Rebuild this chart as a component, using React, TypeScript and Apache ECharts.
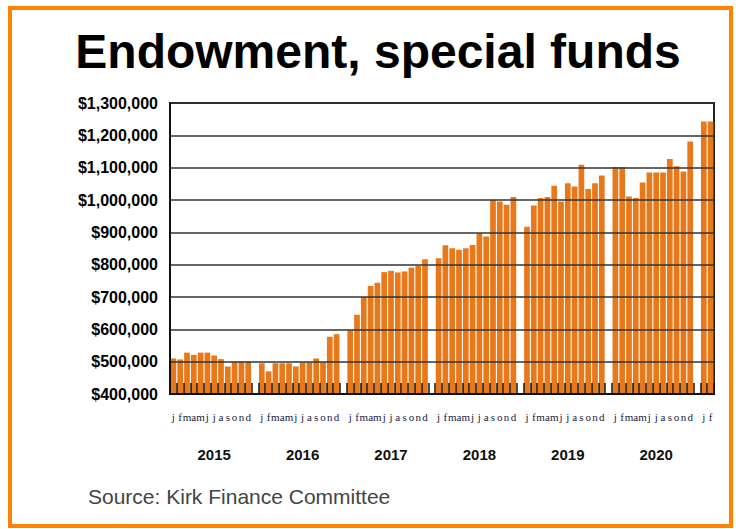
import React, { useEffect, useRef } from "react";
import * as echarts from "echarts";

const monthLetters = ["j", "f", "m", "a", "m", "j", "j", "a", "s", "o", "n", "d"];
const years = ["2015", "2016", "2017", "2018", "2019", "2020", "2021"];
const yearLabelShown = ["2015", "2016", "2017", "2018", "2019", "2020", ""];

const values2015 = [510000, 507000, 528000, 521000, 528000, 528000, 519000, 508000, 485000, 500000, 500000, 500000];
const values2016 = [495000, 470000, 495000, 495000, 495000, 485000, 497000, 498000, 510000, 498000, 577000, 585000];
const values2017 = [597000, 645000, 700000, 734000, 744000, 777000, 781000, 776000, 779000, 791000, 796000, 817000];
const values2018 = [820000, 860000, 851000, 846000, 851000, 861000, 897000, 887000, 1000000, 995000, 985000, 1009000];
const values2019 = [917000, 983000, 1006000, 1009000, 1044000, 995000, 1052000, 1042000, 1109000, 1034000, 1052000, 1076000];
const values2020 = [1102000, 1102000, 1011000, 1006000, 1054000, 1085000, 1085000, 1085000, 1127000, 1104000, 1088000, 1181000];
const values2021 = [1243000, 1243000];

const yearValues = [values2015, values2016, values2017, values2018, values2019, values2020, values2021];

const yMin = 400000;
const yMax = 1300000;
const yInterval = 100000;

export default function App() {
  const ref = useRef<HTMLDivElement>(null);

  useEffect(() => {
    if (!ref.current) return;
    const chart = echarts.init(ref.current, undefined, { renderer: "svg" });

    const monthCats: string[] = [];
    const yearCats: string[] = [];
    const data: (number | string)[] = [];
    yearValues.forEach((vals, yi) => {
      vals.forEach((v, mi) => {
        monthCats.push(monthLetters[mi]);
        yearCats.push(mi === 6 ? yearLabelShown[yi] : "");
        data.push(v);
      });
      if (yi < yearValues.length - 1) {
        monthCats.push("");
        yearCats.push("");
        data.push("-");
      }
    });

    chart.setOption({
      animation: false,
      backgroundColor: "#ffffff",
      title: {
        text: "Endowment, special funds",
        left: 373,
        textAlign: "center",
        top: 22,
        textStyle: {
          fontFamily: "Liberation Sans",
          fontSize: 48,
          fontWeight: "bold",
          color: "#000",
        },
      },
      graphic: [
        {
          type: "rect",
          shape: { x: 10, y: 8, width: 721, height: 518 },
          style: { fill: "none", stroke: "#FF8200", lineWidth: 4 },
          silent: true,
        },
        {
          type: "text",
          left: 88,
          top: 486,
          style: {
            text: "Source: Kirk Finance Committee",
            fontFamily: "Liberation Sans",
            fontSize: 21,
            fill: "#444",
          },
        },
      ],
      grid: {
        left: 170,
        right: 22,
        top: 103,
        bottom: 135,
        show: true,
        borderColor: "#222",
        borderWidth: 2,
        backgroundColor: "transparent",
      },
      xAxis: [
        {
          type: "category",
          data: monthCats,
          position: "bottom",
          boundaryGap: true,
          axisLine: { show: true, lineStyle: { color: "#111", width: 2 } },
          axisTick: {
            show: true,
            interval: 0,
            inside: true,
            length: 11,
            lineStyle: { color: "#111", width: 1.5 },
          },
          axisLabel: {
            interval: 0,
            margin: 17,
            fontFamily: "Liberation Serif",
            fontSize: 11,
            fontWeight: "normal",
            color: "#1a1a40",
          },
          z: 10,
        },
        {
          type: "category",
          data: yearCats,
          position: "bottom",
          boundaryGap: true,
          axisLine: { show: false },
          axisTick: { show: false },
          axisLabel: {
            interval: 0,
            margin: 53,
            fontFamily: "Liberation Sans",
            fontSize: 15,
            fontWeight: "bold",
            color: "#111",
          },
        },
      ],
      yAxis: {
        type: "value",
        min: yMin,
        max: yMax,
        interval: yInterval,
        z: 10,
        axisLine: { show: true, lineStyle: { color: "#111", width: 2 } },
        axisTick: { show: false },
        splitLine: { show: true, lineStyle: { color: "#333", width: 1.5 } },
        axisLabel: {
          margin: 12,
          fontFamily: "Liberation Sans",
          fontSize: 16,
          fontWeight: "bold",
          color: "#000",
          formatter: (v: number) => "$" + v.toLocaleString("en-US"),
        },
      },
      series: [
        {
          type: "bar",
          xAxisIndex: 0,
          data,
          barCategoryGap: "16%",
          itemStyle: { color: "#E8791A" },
          z: 2,
        },
      ],
    });

    return () => chart.dispose();
  }, []);

  return (
    <div
      ref={ref}
      style={{ position: "fixed", left: 0, top: 0, width: 736, height: 529 }}
    />
  );
}
